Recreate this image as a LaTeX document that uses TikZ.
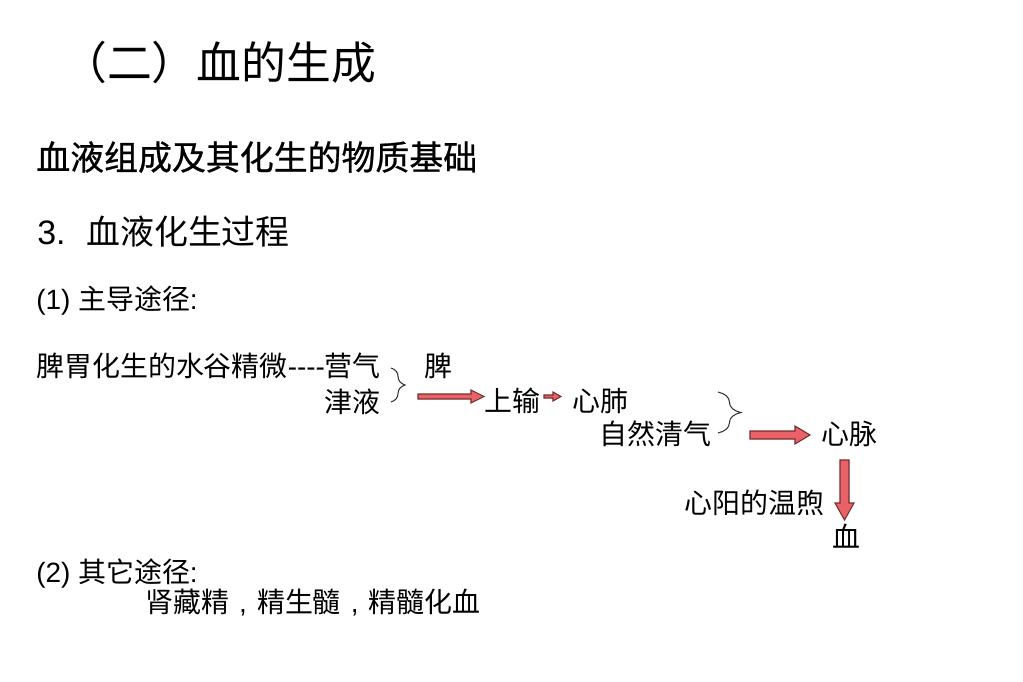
\documentclass[tikz,border=0pt]{standalone}
\usepackage{fontspec}
\setmainfont{Liberation Sans}
\newfontfamily\cjk{Noto Sans CJK SC}
\newfontfamily\cjkm[FakeBold=0.8]{Noto Sans CJK SC}
\usetikzlibrary{decorations.pathreplacing}
\definecolor{arrowfill}{RGB}{232,98,104}
\definecolor{arrowline}{RGB}{120,45,45}
\newcommand{\ccomma}{\hbox to 1em{\hss\rmfamily,\hss}}
\begin{document}
\begin{tikzpicture}[x=0.02cm,y=-0.02cm,
  t28/.style={anchor=west,inner sep=0pt,text height=14pt,text depth=1.9pt,font=\fontsize{15.9pt}{19pt}\selectfont},
  t34/.style={anchor=west,inner sep=0pt,text height=17pt,text depth=2.3pt,font=\fontsize{19.3pt}{23pt}\selectfont},
  t45/.style={anchor=west,inner sep=0pt,text height=22.4pt,text depth=3.1pt,font=\fontsize{25.5pt}{30pt}\selectfont},
  blockarrow/.style={fill=arrowfill,draw=arrowline,line width=0.6pt,line join=miter},
  bracepath/.style={draw=black!80,line width=0.6pt,decorate,decoration={brace,amplitude=#1}}
]
\useasboundingbox[fill=white] (0,0) rectangle (1023,682);

% headings
\node[t45] (title) at (62,63) {\cjk （二）血的生成};
\node[t34] (sub) at (36,157) {\cjkm 血液组成及其化生的物质基础};
\node[t34] (num3) at (37,232) {3.};
\node[t34] (proc) at (86,232) {\cjk 血液化生过程};
\node[t28] (main) at (36,299) {(1) {\cjk 主导途径}:};

% main path
\node[t28] (src) at (36,366) {{\cjk 脾胃化生的水谷精微}-{}-{}-{}-{\cjk 营气}};
\node[t28] (spleen) at (424,366) {\cjk 脾};
\node[t28] (fluid) at (324,402) {\cjk 津液};
\node[t28] (up) at (484,401) {\cjk 上输};
\node[t28] (heartlung) at (572,401) {\cjk 心肺};
\node[t28] (qi) at (599,434) {\cjk 自然清气};
\node[t28] (vessel) at (821,434) {\cjk 心脉};
\node[t28] (yang) at (684,503) {\cjk 心阳的温煦};
\node[t28] (blood) at (832,537) {\cjk 血};

% other path
\node[t28] (other) at (36,572) {(2) {\cjk 其它途径}:};
\node[t28] (kidney) at (145,602) {\cjk 肾藏精\ccomma 精生髓\ccomma 精髓化血};

% braces
\coordinate (b1s) at (391,368);
\coordinate (b1e) at (391,402);
\draw[bracepath=8pt] (b1s) -- (b1e);
\coordinate (b2s) at (718,392);
\coordinate (b2e) at (718,433);
\draw[bracepath=13pt] (b2s) -- (b2e);

% block arrows
\draw[blockarrow] (418,394) -- (471,394) -- (471,390) -- (484,396.5) -- (471,403) -- (471,399) -- (418,399) -- cycle;
\draw[blockarrow] (544,395) -- (553,395) -- (553,392) -- (561,396.5) -- (553,401) -- (553,398) -- (544,398) -- cycle;
\draw[blockarrow] (750,431) -- (795,431) -- (795,426) -- (810,435) -- (795,444) -- (795,439) -- (750,439) -- cycle;
\draw[blockarrow] (840,460) -- (849,460) -- (849,503) -- (854,503) -- (844.5,520) -- (835,503) -- (840,503) -- cycle;
\end{tikzpicture}
\end{document}
